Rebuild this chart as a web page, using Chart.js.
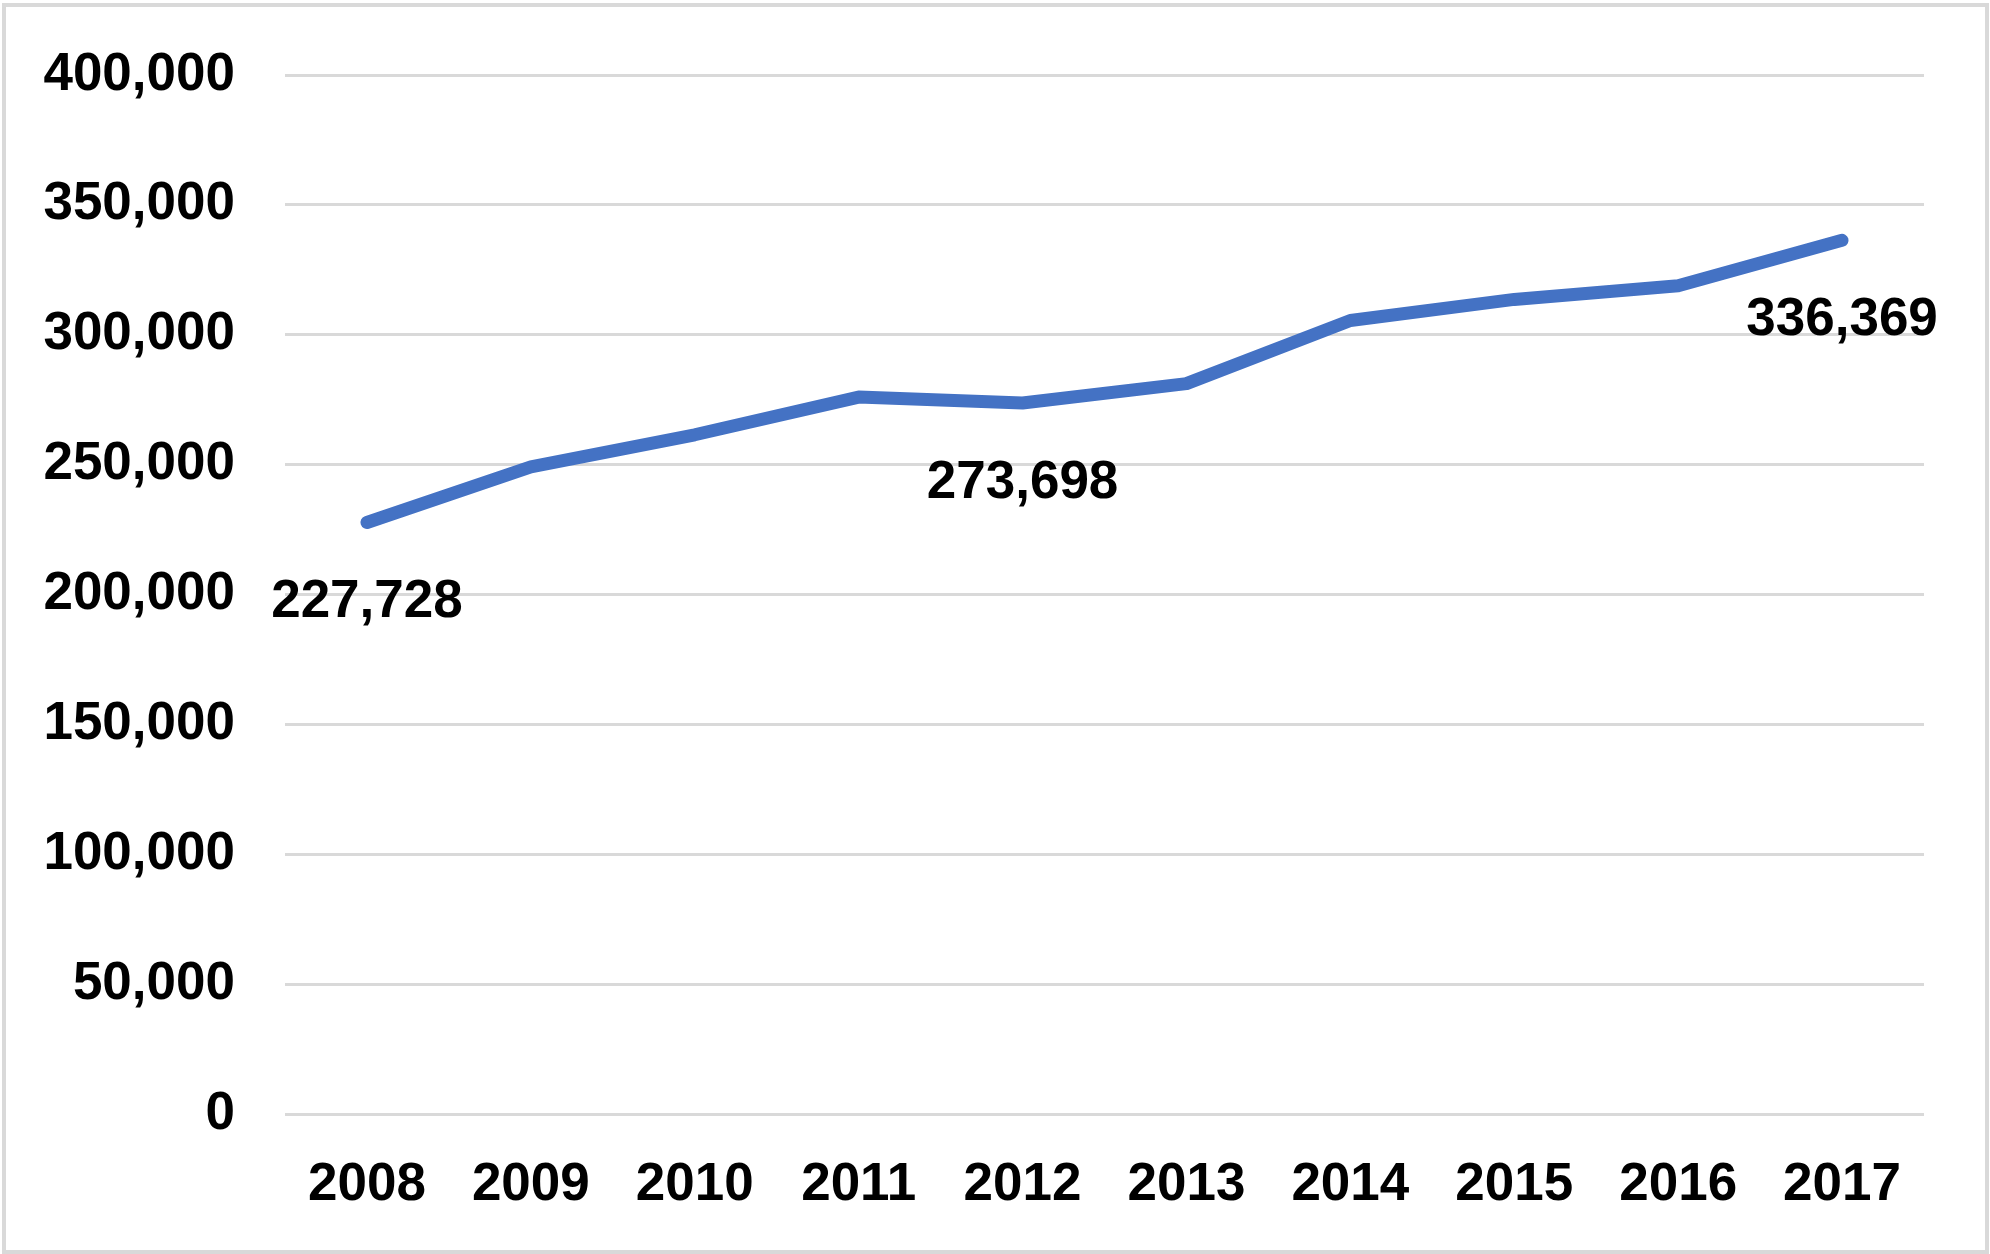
<!DOCTYPE html>
<html><head><meta charset="utf-8">
<script src="https://cdn.jsdelivr.net/npm/chart.js@4"></script>
<style>html,body{margin:0;padding:0;background:#fff}#wrap{width:1990px;height:1254px;position:relative}</style>
</head><body><div id="wrap"><canvas id="c" width="1990" height="1254"></canvas></div>
<script>
const years = ['2008','2009','2010','2011','2012','2013','2014','2015','2016','2017'];
const values = [227728, 249100, 261500, 276000, 273698, 281200, 305500, 313600, 318900, 336369];
const labeledYears = ['2008','2012','2017'];
const yMin = 0, yMax = 400000, yStep = 50000;

const FONT = {family: '"Liberation Sans", Arial, sans-serif', size: 53, weight: 'bold'};
const fmt = v => Number(v).toLocaleString('en-US');

const frame = {
  id: 'frame',
  beforeDraw(chart) {
    const c = chart.ctx;
    c.save();
    c.fillStyle = '#fff';
    c.fillRect(0, 0, chart.width, chart.height);
    c.strokeStyle = '#d9d9d9';
    c.lineWidth = 4;
    c.strokeRect(4, 5, chart.width - 7, chart.height - 7);
    c.restore();
  }
};

const valueLabels = {
  id: 'valueLabels',
  afterDatasetsDraw(chart) {
    const c = chart.ctx;
    const meta = chart.getDatasetMeta(0);
    c.save();
    c.font = `${FONT.weight} ${FONT.size}px ${FONT.family}`;
    c.fillStyle = '#000';
    c.textAlign = 'center';
    c.textBaseline = 'middle';
    labeledYears.forEach(yr => {
      const i = years.indexOf(yr);
      const p = meta.data[i];
      c.fillText(fmt(values[i]), p.x, p.y + 80);
    });
    c.restore();
  }
};

new Chart(document.getElementById('c'), {
  type: 'line',
  data: {
    labels: years,
    datasets: [{
      data: values,
      borderColor: '#4472C4',
      borderWidth: 13,
      pointRadius: 0,
      borderCapStyle: 'round',
      borderJoinStyle: 'round',
      tension: 0,
      fill: false
    }]
  },
  options: {
    responsive: false,
    devicePixelRatio: 1,
    animation: false,
    layout: {padding: {left: 0, right: 66, top: 75, bottom: 0}},
    plugins: {legend: {display: false}, tooltip: {enabled: false}, title: {display: false}},
    scales: {
      x: {
        offset: true,
        grid: {display: false, drawTicks: false},
        border: {display: false},
        ticks: {color: '#000', font: FONT, padding: 40, maxRotation: 0, autoSkip: false},
        afterFit(s) { s.height = 140; }
      },
      y: {
        min: yMin, max: yMax,
        grid: {color: '#d9d9d9', lineWidth: 3, drawTicks: false},
        border: {display: false},
        ticks: {stepSize: yStep, color: '#000', font: FONT, padding: 50, callback: v => fmt(v)},
        afterFit(s) { s.width = 285; s.paddingTop = 0; s.paddingBottom = 0; }
      }
    }
  },
  plugins: [frame, valueLabels]
});
</script>
</body></html>
